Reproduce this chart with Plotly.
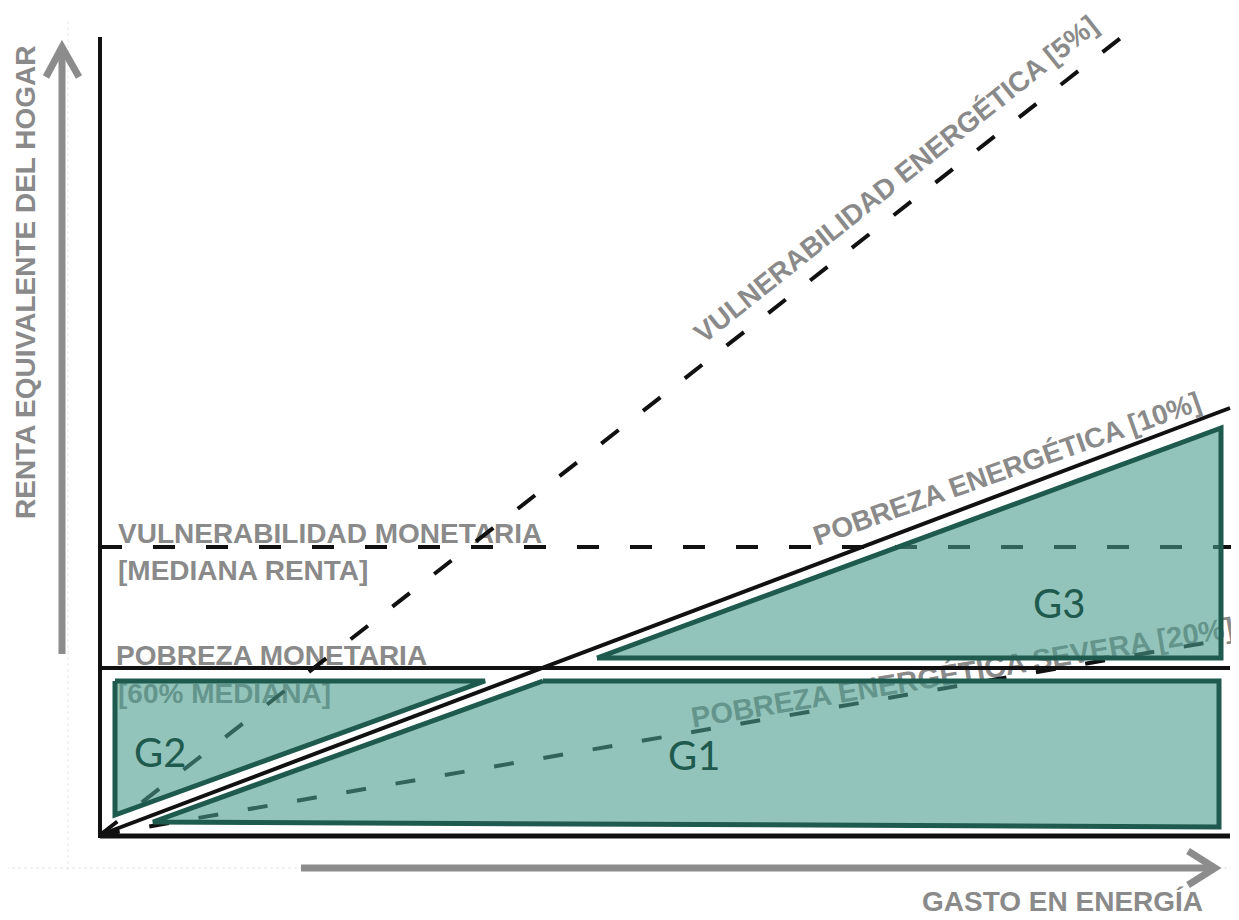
import plotly.graph_objects as go

# ---------------- data (diagram units: origin at the corner of the axes) ----------------
# horizontal income thresholds (renta)
renta_mediana = 288          # VULNERABILIDAD MONETARIA [MEDIANA RENTA]
renta_pobreza = 167          # POBREZA MONETARIA [60% MEDIANA]
gasto_max = 1130             # end of the solid horizontal lines
gasto_borde = 1139           # right edge of the picture

# energy-share lines (gasto vs renta), end points
vuln_energ_x = [0, 1027]
vuln_energ_y = [0, 802]      # 5 %
pobreza_energ_x = [0, 1130]
pobreza_energ_y = [0, 427]   # 10 %
severa_x = [0, 1139]
severa_y = [0, 198]          # 20 %

# highlighted groups
g1_x = [443, 1119, 1119, 53, 443]
g1_y = [154, 154, 8, 13, 154]
g2_x = [15, 385, 15, 15]
g2_y = [154, 154, 20, 154]
g3_x = [497, 1121, 1121, 497]
g3_y = [177, 407, 177, 177]
grupos = ["G1", "G2", "G3"]
grupos_pos = [(594, 80), (60, 83), (959, 232)]

# ---------------- styles ----------------
NEGRO = "#111111"
GRIS = "#8a8a8a"
VERDE_OSC = "#1f5a4e"
RELLENO = "rgba(75,157,142,0.6)"
FUENTE = "Liberation Sans"
DASH = "22px,31px"

fig = go.Figure()

def linea(x, y, dash="solid", width=4, color=NEGRO):
    fig.add_trace(go.Scatter(x=x, y=y, mode="lines", hoverinfo="skip",
                             line=dict(color=color, width=width, dash=dash)))

# faint scan guides
linea([-100, 1139], [-33, -33], dash="dot", width=1, color="#e4e4e4")
linea([-32, -32], [-35, 815], dash="dot", width=1, color="#e8e8e8")

# axes lines
linea([0, 0], [-3, 798], width=4)
linea([0, gasto_max], [-1, -1], width=5)
# income thresholds
linea([0, gasto_borde], [renta_mediana, renta_mediana], dash=DASH, width=4)
linea([0, gasto_max], [renta_pobreza, renta_pobreza], width=4)
# energy lines
linea(vuln_energ_x, vuln_energ_y, dash=DASH, width=4)
linea(pobreza_energ_x, pobreza_energ_y, width=4)
linea(severa_x, severa_y, dash="20px,30px", width=4)

# groups
for gx, gy in [(g1_x, g1_y), (g2_x, g2_y), (g3_x, g3_y)]:
    fig.add_trace(go.Scatter(x=gx, y=gy, mode="lines", fill="toself",
                             fillcolor=RELLENO, hoverinfo="skip",
                             line=dict(color=VERDE_OSC, width=5)))

for nombre, (gx, gy) in zip(grupos, grupos_pos):
    fig.add_annotation(x=gx, y=gy, text=nombre, showarrow=False,
                       font=dict(family="Lato", size=40, color=VERDE_OSC),
                       xanchor="center", yanchor="middle")

# text labels placed beneath the lines and fills (shape labels, layer below)
def etiqueta(texto, cx, cy, angulo=0, izquierda=False, size=28):
    if izquierda:
        x0, x1, pos = cx, cx + 2, "middle left"
    else:
        x0, x1, pos = cx - 1, cx + 1, "middle center"
    fig.add_shape(type="rect", x0=x0, x1=x1, y0=cy - 1, y1=cy + 1,
                  line=dict(width=0, color="rgba(0,0,0,0)"),
                  fillcolor="rgba(0,0,0,0)", layer="below",
                  label=dict(text=texto, textposition=pos, textangle=angulo,
                             padding=0,
                             font=dict(family=FUENTE, size=size, color=GRIS,
                                       weight="bold")))

etiqueta("VULNERABILIDAD MONETARIA", 15, 305, izquierda=True)
etiqueta("[MEDIANA RENTA]", 15, 268, izquierda=True)
etiqueta("POBREZA MONETARIA", 13, 183, izquierda=True)
etiqueta("[60% MEDIANA]", 15, 145, izquierda=True)
etiqueta("VULNERABILIDAD ENERGÉTICA [5%]", 794, 658, angulo=-38.5)
etiqueta("POBREZA ENERGÉTICA [10%]", 906, 369, angulo=-19.5)
etiqueta("POBREZA ENERGÉTICA SEVERA [20%]", 862, 165, angulo=-9.5, size=29)

# axis titles
fig.add_annotation(x=-75, y=552, text="RENTA EQUIVALENTE DEL HOGAR", textangle=-90,
                   showarrow=False, font=dict(family=FUENTE, size=28, color=GRIS,
                                              weight="bold"))
fig.add_annotation(x=962, y=-84, text="GASTO EN ENERGÍA", showarrow=False,
                   yanchor="bottom",
                   font=dict(family=FUENTE, size=28, color=GRIS, weight="bold"))

# grey arrows
FLECHA = "#8c8c8c"
fig.add_shape(type="line", x0=-38, x1=-38, y0=181, y1=788,
              line=dict(color=FLECHA, width=7))
fig.add_shape(type="path", path="M -54,758 L -38,788 L -21,758",
              line=dict(color=FLECHA, width=7))
fig.add_shape(type="line", x0=201, x1=1113, y0=-33, y1=-33,
              line=dict(color=FLECHA, width=7))
fig.add_shape(type="path", path="M 1088,-16 L 1115,-33 L 1088,-50",
              line=dict(color=FLECHA, width=7))

# the page adds an 8px body margin: size the figure so it fills the rest exactly
fig.update_layout(
    width=1231, height=912,
    margin=dict(l=0, r=0, t=0, b=0),
    paper_bgcolor="white", plot_bgcolor="white",
    showlegend=False,
    xaxis=dict(range=[-92, 1139], visible=False, fixedrange=True),
    yaxis=dict(range=[-85, 827], visible=False, fixedrange=True),
)

fig.write_html("out.html")
